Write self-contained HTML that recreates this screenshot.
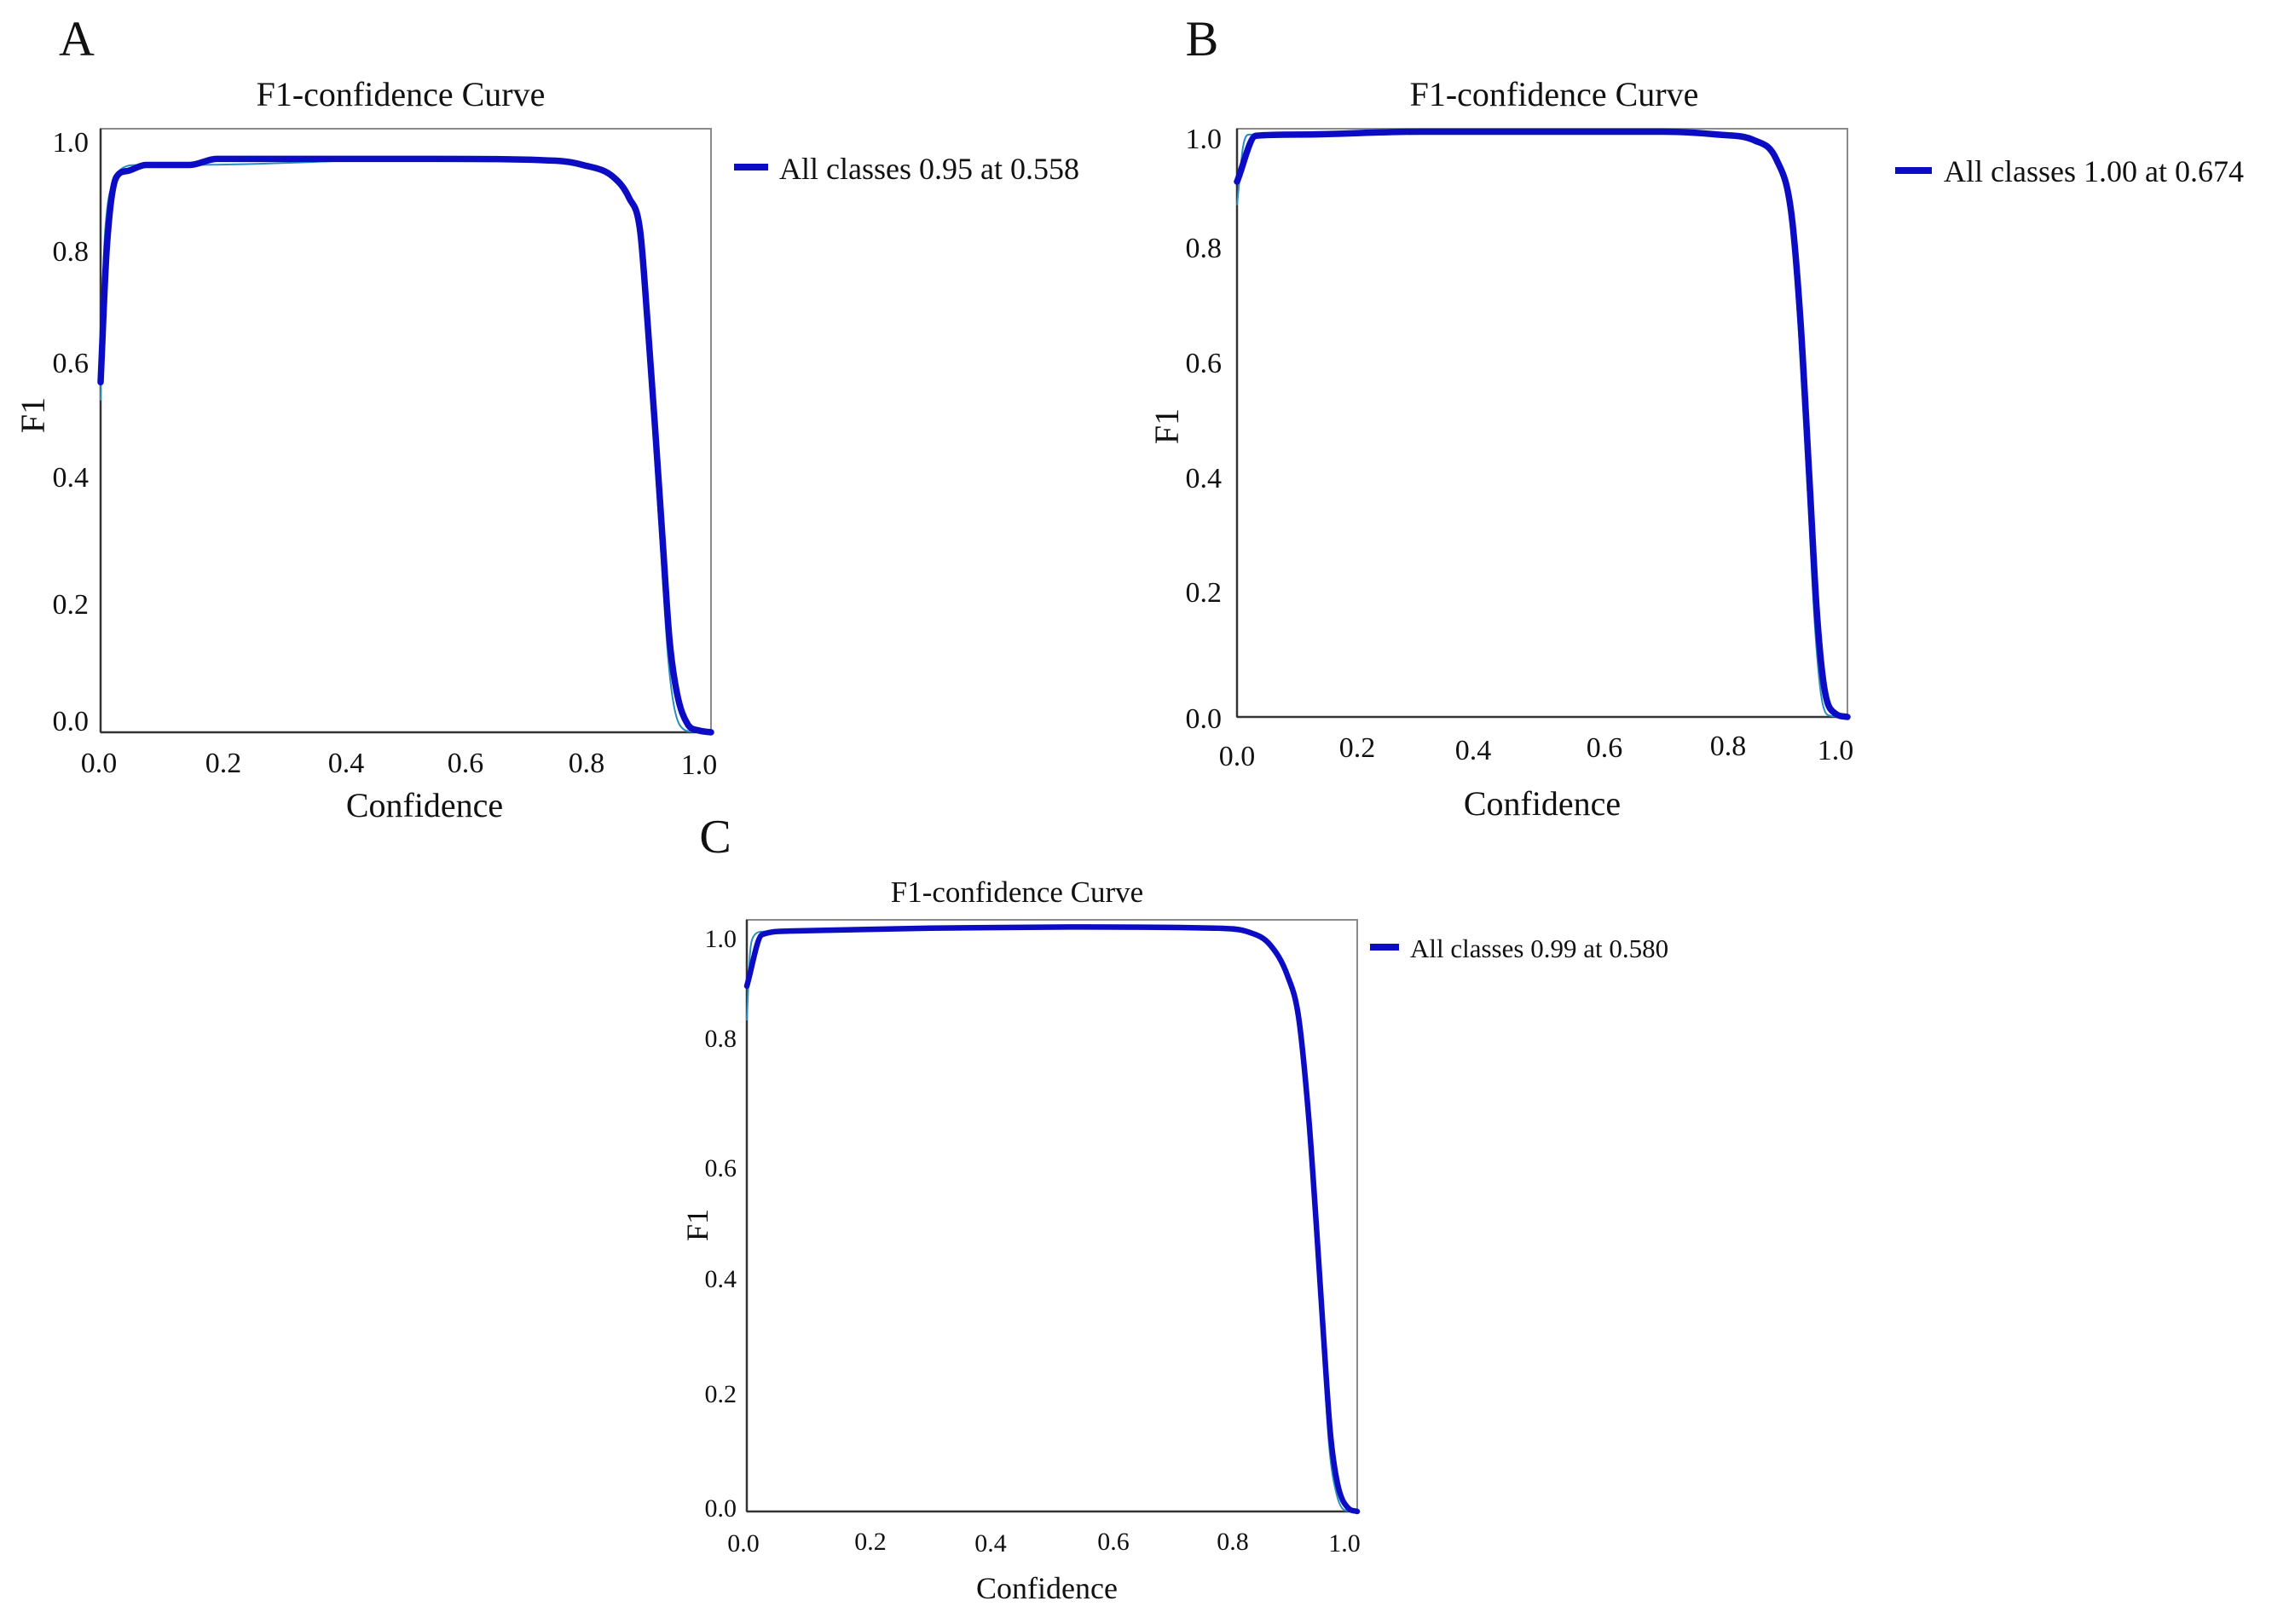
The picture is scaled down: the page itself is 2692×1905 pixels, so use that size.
<!DOCTYPE html>
<html><head><meta charset="utf-8"><style>
html,body{margin:0;padding:0;background:#fff;}
svg{display:block;font-family:"Liberation Serif",serif;}
</style></head><body>
<svg id="fig" width="2692" height="1905" viewBox="0 0 2692 1905" xmlns="http://www.w3.org/2000/svg"></svg>
<script>
// ---- Panel A data ----
const aConf = [0,0.01,0.026,0.044,0.074,0.146,0.19,0.31,0.55,0.746,0.79,0.84,0.866,0.884,0.896,0.908,0.92,0.932,0.944,0.962,0.98,1.0];
const aF1 = [0.58,0.80,0.92,0.93,0.94,0.94,0.95,0.95,0.95,0.947,0.94,0.92,0.885,0.83,0.68,0.51,0.33,0.154,0.066,0.013,0.003,0];
const aThinConf = [0,0.005,0.01,0.02,0.03,0.06,0.146,0.55,0.79,0.84,0.866,0.884,0.896,0.906,0.918,0.93,0.94,0.955,0.97,1.0];
const aThinF1 = [0.55,0.78,0.86,0.91,0.93,0.94,0.94,0.95,0.94,0.92,0.885,0.83,0.67,0.49,0.30,0.12,0.04,0.005,0.001,0];
// ---- Panel B data ----
const bConf = [0,0.031,0.1,0.3,0.5,0.7,0.788,0.848,0.884,0.908,0.923,0.938,0.95,0.962,0.98,1.0];
const bF1 = [0.91,0.988,0.99,0.995,0.995,0.995,0.99,0.98,0.947,0.857,0.675,0.40,0.177,0.05,0.006,0];
const bThinConf = [0,0.01,0.02,0.05,0.3,0.7,0.788,0.848,0.884,0.906,0.92,0.935,0.947,0.958,0.972,1.0];
const bThinF1 = [0.87,0.97,0.99,0.99,0.995,0.995,0.99,0.98,0.945,0.85,0.66,0.38,0.15,0.03,0.002,0];
// ---- Panel C data ----
const cConf = [0,0.025,0.07,0.3,0.53,0.765,0.823,0.857,0.886,0.904,0.921,0.933,0.944,0.956,0.968,0.985,1.0];
const cF1 = [0.888,0.975,0.981,0.986,0.988,0.986,0.979,0.958,0.905,0.835,0.66,0.484,0.309,0.133,0.046,0.006,0];
const cThinConf = [0,0.005,0.01,0.025,0.07,0.53,0.823,0.857,0.886,0.904,0.92,0.932,0.943,0.954,0.966,0.98,1.0];
const cThinF1 = [0.83,0.94,0.97,0.98,0.981,0.988,0.979,0.958,0.905,0.83,0.65,0.47,0.29,0.11,0.03,0.002,0];
// tick labels
const xTicks = ["0.0","0.2","0.4","0.6","0.8","1.0"];
const yTicks = ["0.0","0.2","0.4","0.6","0.8","1.0"];
const legendA = "All classes 0.95 at 0.558";
const legendB = "All classes 1.00 at 0.674";
const legendC = "All classes 0.99 at 0.580";

const NS = "http://www.w3.org/2000/svg";
const svg = document.getElementById('fig');
function mk(tag, attrs, parent){const e=document.createElementNS(NS,tag);for(const k in attrs)e.setAttribute(k,attrs[k]);(parent||svg).appendChild(e);return e;}

// monotone cubic path through screen points
function smoothPath(xs, ys){
  const n = xs.length, d=[], m=new Array(n);
  for(let i=0;i<n-1;i++) d.push((ys[i+1]-ys[i])/(xs[i+1]-xs[i]));
  m[0]=d[0]; m[n-1]=d[n-2];
  for(let i=1;i<n-1;i++){ m[i] = (d[i-1]*d[i]<=0)?0:(d[i-1]+d[i])/2; }
  for(let i=0;i<n-1;i++){
    if(d[i]===0){m[i]=0;m[i+1]=0;continue;}
    const a=m[i]/d[i], b=m[i+1]/d[i], s=a*a+b*b;
    if(s>9){const t=3/Math.sqrt(s); m[i]=t*a*d[i]; m[i+1]=t*b*d[i];}
  }
  let p = `M${xs[0]},${ys[0]}`;
  for(let i=0;i<n-1;i++){
    const h=(xs[i+1]-xs[i])/3;
    p += ` C${xs[i]+h},${ys[i]+m[i]*h} ${xs[i+1]-h},${ys[i+1]-m[i+1]*h} ${xs[i+1]},${ys[i+1]}`;
  }
  return p;
}

function panel(p){
  const g = mk('g',{});
  
  
  const sx = v => p.x0 + v*(p.x1-p.x0);
  const sy = v => p.y0 - v*(p.y0-p.y1);
  const lt = mk('text',{x:p.letter[0],y:p.letter[1],'font-size':p.lfs,'text-anchor':'middle',fill:'#111'},g);
  lt.textContent = p.id;
  
  
  const t = mk('text',{x:p.title[0],y:p.title[1],'font-size':p.tfs,'text-anchor':'middle',fill:'#111'},g);
  t.textContent = "F1-confidence Curve";
  
  
  const box = mk('rect',{x:p.x0,y:p.y1,width:p.x1-p.x0,height:p.y0-p.y1,fill:'none',stroke:'#8a8a8a','stroke-width':2},g);
  
  
  const ax = mk('line',{x1:p.x0,y1:p.y0,x2:p.x1,y2:p.y0,stroke:'#333','stroke-width':2.5},g);
  
  
  const ay = mk('line',{x1:p.x0,y1:p.y0,x2:p.x0,y2:p.y1,stroke:'#333','stroke-width':2.5},g);
  
  
  xTicks.forEach((s,i)=>{
    const e = mk('text',{x:p.xtx[i],y:p.xty[i],'font-size':p.kfs,'text-anchor':'middle',fill:'#111'},g);
    e.textContent = s;
    
    
  });
  yTicks.forEach((s,i)=>{
    const e = mk('text',{x:p.ytx,y:p.yty[i],'font-size':p.kfs,'text-anchor':'end',fill:'#111'},g);
    e.textContent = s;
    
    
  });
  const xl = mk('text',{x:p.xlab[0],y:p.xlab[1],'font-size':p.afs,'text-anchor':'middle',fill:'#111'},g);
  xl.textContent = "Confidence";
  
  
  const yl = mk('text',{x:0,y:0,'font-size':p.afs,'text-anchor':'middle',fill:'#111',transform:`translate(${p.ylab[0]},${p.ylab[1]}) rotate(-90)`},g);
  yl.textContent = "F1";
  
  
  const thin = mk('path',{d:smoothPath(p.tc.map(sx), p.tf.map(sy)),fill:'none',stroke:'#2a8fbf','stroke-width':2,'stroke-linejoin':'round'},g);
  
  
  const thick = mk('path',{d:smoothPath(p.c.map(sx), p.f.map(sy)),fill:'none',stroke:'#0c0cc4','stroke-width':p.lw,'stroke-linejoin':'round','stroke-linecap':'round'},g);
  
  
  const lg = mk('line',{x1:p.leg[0],y1:p.leg[2],x2:p.leg[1],y2:p.leg[2],stroke:'#0c0cc4','stroke-width':8},g);
  
  
  const lgt = mk('text',{x:p.leg[3],y:p.leg[4],'font-size':p.gfs,fill:'#111'},g);
  lgt.textContent = p.legend;
  
  
}

panel({id:'A',x0:118,x1:834,y0:859,y1:151,c:aConf,f:aF1,tc:aThinConf,tf:aThinF1,legend:legendA,
  letter:[90,65],lfs:58,title:[470,124],tfs:40,kfs:34,afs:40,lw:7.5,
  xtx:[116,262,406,546,688,820],xty:[906,906,906,906,906,908],
  ytx:104,yty:[857,720,571,437,306,178],xlab:[498,958],ylab:[52,487],
  leg:[861,901,196,914,210],gfs:36});
panel({id:'B',x0:1451,x1:2167,y0:841,y1:151,c:bConf,f:bF1,tc:bThinConf,tf:bThinF1,legend:legendB,
  letter:[1410,65],lfs:58,title:[1823,124],tfs:40,kfs:34,afs:40,lw:7.5,
  xtx:[1451,1592,1728,1882,2027,2153],xty:[898,888,891,888,886,891],
  ytx:1433,yty:[854,706,572,437,302,174],xlab:[1809,956],ylab:[1382,500],
  leg:[2223,2266,200,2280,213],gfs:36});
panel({id:'C',x0:876,x1:1592,y0:1773,y1:1079,c:cConf,f:cF1,tc:cThinConf,tf:cThinF1,legend:legendC,
  letter:[839,1000],lfs:56,title:[1193,1058],tfs:35,kfs:30,afs:36,lw:6.5,
  xtx:[872,1021,1162,1306,1446,1577],xty:[1820,1818,1820,1818,1818,1820],
  ytx:864,yty:[1779,1645,1510,1380,1228,1111],xlab:[1228,1875],ylab:[830,1437],
  leg:[1607,1641,1111,1654,1123],gfs:31});
</script>
</body></html>
